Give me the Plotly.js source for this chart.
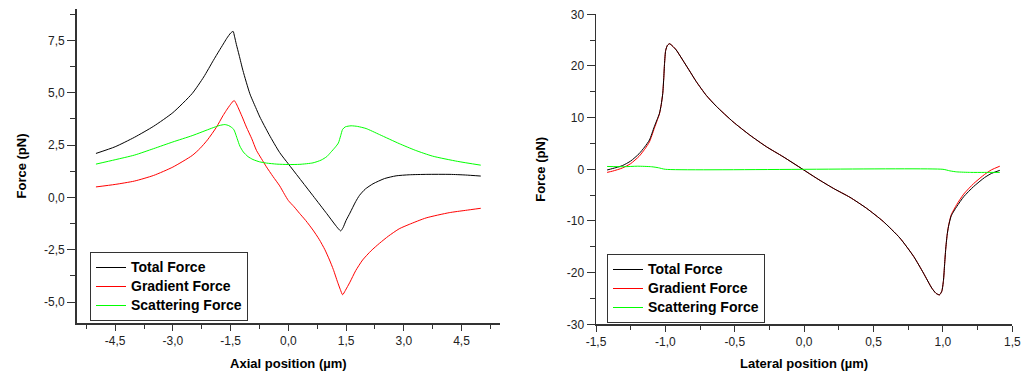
<!DOCTYPE html>
<html>
<head>
<meta charset="utf-8">
<script src="https://cdn.plot.ly/plotly-3.0.1.min.js"></script>
<style>html,body{margin:0;padding:0;background:#fff;}#chart{width:1021px;height:371px;}</style>
</head>
<body>
<div id="chart"></div>
<script>
// ---------- Left panel: axial position ----------
var axialTotalX = [-5.0,-4.5,-4.0,-3.5,-3.0,-2.5,-2.2,-1.95,-1.8,-1.69,-1.6,-1.5,-1.435,-1.40,-1.35,-1.28,-1.18,-1.0,-0.85,-0.74,-0.5,-0.225,0,0.64,1.0,1.2,1.3,1.36,1.42,1.5,1.6,1.75,1.85,2.0,2.2,2.5,2.8,3.14,3.6,4.2,4.6,5.0];
var axialTotalY = [2.10,2.42,2.87,3.40,4.05,4.96,5.75,6.54,7.00,7.33,7.60,7.85,7.93,7.70,7.30,6.80,6.06,4.95,4.30,3.84,3.00,2.14,1.60,0.08,-0.78,-1.27,-1.50,-1.60,-1.45,-1.10,-0.75,-0.20,0.10,0.40,0.65,0.90,1.03,1.08,1.10,1.10,1.07,1.02];

var axialGradX = [-5.0,-4.5,-4.0,-3.5,-3.0,-2.5,-2.3,-2.1,-1.87,-1.7,-1.61,-1.5,-1.41,-1.36,-1.31,-1.2,-1.09,-0.95,-0.83,-0.7,-0.57,-0.4,-0.225,-0.1,0,0.15,0.29,0.45,0.64,0.8,0.95,1.07,1.17,1.28,1.35,1.41,1.48,1.6,1.75,1.93,2.15,2.37,2.6,2.88,3.14,3.58,4.18,4.6,5.0];
var axialGradY = [0.50,0.62,0.78,1.05,1.45,2.00,2.33,2.75,3.35,3.90,4.16,4.45,4.63,4.50,4.31,3.85,3.36,2.80,2.25,1.85,1.46,1.00,0.55,0.15,-0.15,-0.45,-0.76,-1.10,-1.56,-2.00,-2.50,-2.99,-3.45,-4.05,-4.40,-4.65,-4.45,-4.05,-3.50,-2.99,-2.55,-2.19,-1.85,-1.50,-1.29,-0.98,-0.73,-0.62,-0.52];

var axialScatX = [-5.0,-4.5,-4.0,-3.5,-3.0,-2.5,-2.0,-1.8,-1.65,-1.55,-1.48,-1.42,-1.38,-1.33,-1.26,-1.17,-1.05,-0.92,-0.75,-0.57,-0.3,0,0.3,0.64,0.85,1.0,1.1,1.22,1.3,1.36,1.41,1.48,1.63,1.8,2.02,2.37,2.88,3.3,3.75,4.4,5.0];
var axialScatY = [1.59,1.80,2.02,2.33,2.65,2.95,3.30,3.43,3.48,3.43,3.35,3.25,3.08,2.81,2.45,2.17,1.95,1.81,1.70,1.64,1.59,1.57,1.58,1.65,1.78,1.95,2.15,2.40,2.60,2.95,3.25,3.37,3.42,3.39,3.29,3.00,2.57,2.25,1.97,1.72,1.54];

// ---------- Right panel: lateral position ----------
var latTotalX = [-1.42,-1.38,-1.31,-1.25,-1.19,-1.15,-1.115,-1.08,-1.06,-1.043,-1.03,-1.019,-1.012,-1.006,-0.998,-0.985,-0.970,-0.95,-0.922,-0.874,-0.82,-0.778,-0.705,-0.633,-0.513,-0.392,-0.272,-0.152,-0.01,0.09,0.21,0.33,0.45,0.57,0.69,0.79,0.86,0.92,0.95,0.975,0.992,1.004,1.012,1.02,1.03,1.04,1.06,1.1,1.15,1.22,1.3,1.35,1.41];
var latTotalY = [-0.13,0.15,0.71,1.6,3.0,4.3,5.67,8.24,9.6,10.8,12.5,14.7,17.5,20.5,23.0,24.0,24.3,23.9,23.1,21.1,18.8,17.0,14.3,12.2,9.21,6.63,4.37,2.44,0,-1.74,-3.68,-5.42,-7.55,-10.1,-13.3,-16.9,-20.1,-23.0,-24.0,-24.3,-23.6,-21.5,-18.5,-15.5,-12.8,-11.1,-9.0,-7.2,-5.3,-3.37,-1.6,-0.8,-0.2];

var latGradX = [-1.42,-1.38,-1.31,-1.25,-1.19,-1.15,-1.115,-1.08,-1.06,-1.043,-1.03,-1.019,-1.012,-1.006,-0.998,-0.985,-0.970,-0.95,-0.922,-0.874,-0.82,-0.778,-0.705,-0.633,-0.513,-0.392,-0.272,-0.152,-0.01,0.09,0.21,0.33,0.45,0.57,0.69,0.79,0.86,0.92,0.95,0.975,0.992,1.004,1.012,1.02,1.03,1.04,1.06,1.1,1.15,1.22,1.3,1.35,1.41];
var latGradY = [-0.6,-0.35,0.25,1.1,2.5,3.85,5.3,7.9,9.4,10.7,12.5,14.7,17.5,20.5,23.0,24.0,24.3,23.9,23.1,21.1,18.8,17.0,14.3,12.2,9.21,6.63,4.37,2.44,0,-1.74,-3.68,-5.42,-7.55,-10.1,-13.3,-16.9,-20.1,-23.0,-24.0,-24.3,-23.6,-21.5,-18.5,-15.5,-12.8,-11.0,-8.8,-6.8,-4.8,-2.8,-1.0,-0.1,0.6];

var latScatX = [-1.42,-1.3,-1.2,-1.1,-1.05,-1.0,1.0,1.05,1.1,1.2,1.3,1.41];
var latScatY = [0.55,0.5,0.6,0.5,0.3,0.0,0.0,-0.3,-0.5,-0.6,-0.6,-0.6];

// ---------- Tick labels ----------
var axialXTicks = [-4.5,-3.0,-1.5,0,1.5,3.0,4.5];
var axialXLabels = ['-4,5','-3,0','-1,5','0,0','1,5','3,0','4,5'];
var axialYTicks = [-5,-2.5,0,2.5,5,7.5];
var axialYLabels = ['-5,0','-2,5','0,0','2,5','5,0','7,5'];
var latXTicks = [-1.5,-1.0,-0.5,0,0.5,1.0,1.5];
var latXLabels = ['-1,5','-1,0','-0,5','0,0','0,5','1,0','1,5'];
var latYTicks = [-30,-20,-10,0,10,20,30];
var latYLabels = ['-30','-20','-10','0','10','20','30'];

var seriesNames = ['Total Force','Gradient Force','Scattering Force'];
var seriesColors = ['#000000','#ff0000','#00ff00'];

var W = 1021, H = 371;
function fx(px){return px/W;}
function fy(py){return 1-py/H;}
// legend glyphs drawn at 14px while rows are spaced as for 12px text (tighter rows, like the original)
function legName(i){return '<span style="font-size:14px">'+seriesNames[i]+'</span>';}

var traces = [
  {x:axialTotalX,y:axialTotalY,name:legName(0),line:{color:seriesColors[0]},xaxis:'x',yaxis:'y',legend:'legend',legendrank:1},
  {x:axialGradX,y:axialGradY,name:legName(1),line:{color:seriesColors[1]},xaxis:'x',yaxis:'y',legend:'legend',legendrank:2},
  {x:axialScatX,y:axialScatY,name:legName(2),line:{color:seriesColors[2]},xaxis:'x',yaxis:'y',legend:'legend',legendrank:3},
  {x:latGradX,y:latGradY,name:legName(1),line:{color:seriesColors[1]},xaxis:'x2',yaxis:'y2',legend:'legend2',legendrank:2},
  {x:latTotalX,y:latTotalY,name:legName(0),line:{color:seriesColors[0]},xaxis:'x2',yaxis:'y2',legend:'legend2',legendrank:1},
  {x:latScatX,y:latScatY,name:legName(2),line:{color:seriesColors[2]},xaxis:'x2',yaxis:'y2',legend:'legend2',legendrank:3}
];
traces.forEach(function(t){t.type='scatter';t.mode='lines';t.line.width=1;t.line.shape='spline';t.line.smoothing=0.6;});

var tickFont = {family:'Arial, "Liberation Sans", sans-serif', size:12, color:'#222'};
var titleFont = {family:'Arial, "Liberation Sans", sans-serif', size:13, color:'#000', weight:'bold'};
var legFont = {family:'Arial, "Liberation Sans", sans-serif', size:12, color:'#000', weight:'bold'};

function axisBase(len){
  return {showline:true, linecolor:'#333', linewidth:1.5, mirror:false, showgrid:false, zeroline:false,
          ticks:'outside', ticklen:len, tickwidth:1, tickcolor:'#333', tickfont:tickFont, tickmode:'array', fixedrange:true};
}

var xa = axisBase(6); Object.assign(xa,{domain:[fx(76.7),fx(500)], range:[-5.5,5.5], anchor:'y', tickvals:axialXTicks, ticktext:axialXLabels,
  minor:{tickmode:'linear',tick0:0,dtick:0.75,ticks:'outside',ticklen:4,tickcolor:'#333'},
  title:{text:'Axial position (µm)', font:titleFont, standoff:12}});
var ya = axisBase(8); Object.assign(ya,{domain:[fy(323),fy(9)], range:[-6,9], anchor:'x', tickvals:axialYTicks, ticktext:axialYLabels,
  minor:{tickmode:'linear',tick0:0,dtick:1.25,ticks:'outside',ticklen:5,tickcolor:'#333'},
  title:{text:'Force (pN)', font:titleFont, standoff:14}});
var xa2 = axisBase(6); Object.assign(xa2,{domain:[fx(596),fx(1012.3)], range:[-1.5,1.5], anchor:'y2', tickvals:latXTicks, ticktext:latXLabels,
  minor:{tickmode:'linear',tick0:0,dtick:0.25,ticks:'outside',ticklen:4,tickcolor:'#333'},
  title:{text:'Lateral position (µm)', font:titleFont, standoff:12}});
var ya2 = axisBase(8); Object.assign(ya2,{domain:[fy(324.3),fy(14.3)], range:[-30,30], anchor:'x2', tickvals:latYTicks, ticktext:latYLabels,
  minor:{tickmode:'linear',tick0:0,dtick:5,ticks:'outside',ticklen:5,tickcolor:'#333'},
  title:{text:'Force (pN)', font:titleFont, standoff:18}});

var legBase = {bgcolor:'#fff', bordercolor:'#333', borderwidth:1, font:legFont, xanchor:'left', yanchor:'top', traceorder:'normal', itemwidth:30, tracegroupgap:0};
var layout = {
  width:W, height:H, margin:{l:0,r:0,t:0,b:0,pad:0}, paper_bgcolor:'#fff', plot_bgcolor:'#fff',
  showlegend:true,
  xaxis:xa, yaxis:ya, xaxis2:xa2, yaxis2:ya2,
  legend:Object.assign({}, legBase, {x:fx(90), y:fy(252)}),
  legend2:Object.assign({}, legBase, {x:fx(607), y:fy(254)})
};
Plotly.newPlot('chart', traces, layout, {staticPlot:true, displayModeBar:false});
</script>
</body>
</html>
